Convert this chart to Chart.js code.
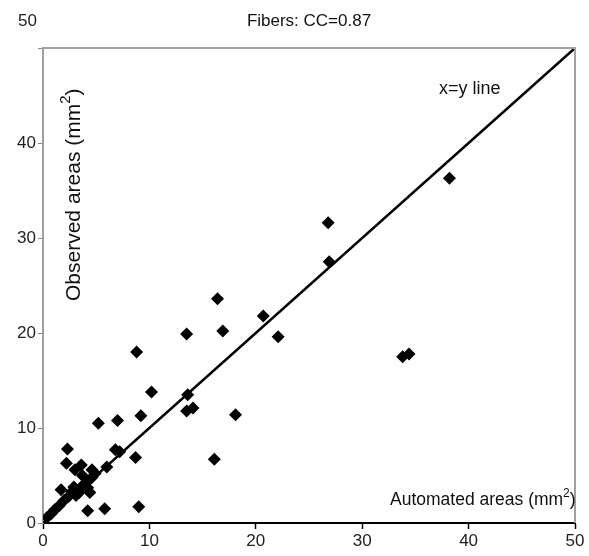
<!DOCTYPE html>
<html>
<head>
<meta charset="utf-8">
<script src="https://cdn.jsdelivr.net/npm/chart.js@4.4.0/dist/chart.umd.min.js"></script>
<style>
  body { margin: 0; background: #fff; }
</style>
</head>
<body>
<canvas id="chart" width="589" height="556"></canvas>
<script>
// automated (x) vs observed (y) areas, mm2
const automated = [38.2, 26.8, 26.9, 16.4, 20.7, 16.9, 13.5, 22.1, 8.8, 10.2,
  13.6, 13.5, 14.1, 18.1, 16.1, 33.8, 34.4, 5.2, 7.0, 9.2,
  2.3, 6.8, 7.2, 8.7, 2.2, 3.0, 3.6, 4.6, 6.0, 4.2,
  5.8, 9.0, 0.4, 0.8, 1.1, 1.5, 1.7, 2.0, 2.4, 2.7,
  2.9, 3.1, 3.4, 3.6, 3.9, 4.2, 4.4, 4.6, 4.9, 4.2, 3.7];
const observed = [36.3, 31.6, 27.5, 23.6, 21.8, 20.2, 19.9, 19.6, 18.0, 13.8,
  13.5, 11.8, 12.1, 11.4, 6.7, 17.5, 17.8, 10.5, 10.8, 11.3,
  7.8, 7.7, 7.5, 6.9, 6.3, 5.6, 6.1, 5.6, 5.9, 1.3,
  1.5, 1.7, 0.6, 1.0, 1.4, 1.8, 3.5, 2.4, 2.8, 3.3,
  3.8, 2.9, 3.2, 3.8, 4.1, 4.4, 3.2, 4.8, 5.2, 3.7, 5.0];
const identityLine = [0, 50];
const axisTicks = [0, 10, 20, 30, 40, 50];

const titleText = 'Fibers: CC=0.87';

const points = automated.map((x, i) => ({ x: x, y: observed[i] }));
const diag = identityLine.map(v => ({ x: v, y: v }));

// draws text with a raised "2"
function drawSup(ctx, before, sup, after, x, y, size) {
  const fam = '"Liberation Sans", Arial, sans-serif';
  ctx.font = size + 'px ' + fam;
  ctx.fillText(before, x, y);
  let w = ctx.measureText(before).width;
  ctx.font = Math.round(size * 0.7) + 'px ' + fam;
  ctx.fillText(sup, x + w, y - size * 0.48);
  w += ctx.measureText(sup).width;
  ctx.font = size + 'px ' + fam;
  ctx.fillText(after, x + w, y);
}

const extras = {
  id: 'extras',
  afterDraw(chart) {
    const ctx = chart.ctx;
    const a = chart.chartArea;
    ctx.save();
    // top & right frame
    ctx.strokeStyle = '#a0a0a0';
    ctx.lineWidth = 2;
    ctx.beginPath();
    ctx.moveTo(a.left, a.top);
    ctx.lineTo(a.right, a.top);
    ctx.lineTo(a.right, a.bottom);
    ctx.stroke();

    ctx.fillStyle = '#111';
    ctx.textBaseline = 'alphabetic';
    ctx.font = '17px "Liberation Sans", Arial, sans-serif';
    ctx.textAlign = 'center';
    ctx.fillText(titleText, (a.left + a.right) / 2, 26);

    // top y label sits up by the title
    ctx.textAlign = 'right';
    ctx.fillStyle = '#222';
    ctx.fillText('50', a.left - 6, 26);

    ctx.fillStyle = '#111';
    ctx.textAlign = 'left';
    ctx.font = '18px "Liberation Sans", Arial, sans-serif';
    ctx.fillText('x=y line', 439, 94);

    drawSup(ctx, 'Automated areas (mm', '2', ')', 390, 505, 17.5);

    ctx.translate(80, 301);
    ctx.rotate(-Math.PI / 2);
    drawSup(ctx, 'Observed areas (mm', '2', ')', 0, 0, 21);
    ctx.restore();
  }
};

new Chart(document.getElementById('chart').getContext('2d'), {
  type: 'scatter',
  data: {
    datasets: [{
      label: 'areas',
      data: points,
      pointStyle: 'rectRot',
      pointRadius: 6.5,
      backgroundColor: '#000',
      borderColor: '#000',
      borderWidth: 0,
      order: 1
    }, {
      type: 'line',
      label: 'x=y line',
      data: diag,
      borderColor: '#000',
      borderWidth: 2.5,
      pointRadius: 0,
      fill: false,
      order: 2
    }]
  },
  options: {
    responsive: false,
    animation: false,
    layout: { padding: { top: 48, right: 14, left: 0, bottom: 0 } },
    plugins: {
      legend: { display: false },
      tooltip: { enabled: false }
    },
    scales: {
      x: {
        type: 'linear',
        min: 0,
        max: 50,
        afterBuildTicks: s => { s.ticks = axisTicks.map(v => ({ value: v })); },
        afterFit: s => { s.height = 33; },
        grid: { drawOnChartArea: false, tickLength: 6, color: '#000', tickWidth: 1.5 },
        border: { color: '#000', width: 2 },
        ticks: {
          padding: 2,
          color: '#222',
          font: { family: '"Liberation Sans", Arial, sans-serif', size: 17 }
        }
      },
      y: {
        type: 'linear',
        min: 0,
        max: 50,
        afterBuildTicks: s => { s.ticks = axisTicks.map(v => ({ value: v })); },
        afterFit: s => { s.width = 43; },
        grid: { drawOnChartArea: false, tickLength: 5, color: '#888' },
        border: { color: '#a0a0a0', width: 2 },
        ticks: {
          padding: 2,
          color: '#222',
          font: { family: '"Liberation Sans", Arial, sans-serif', size: 17 },
          callback: v => (v === 50 ? '' : v)
        }
      }
    }
  },
  plugins: [extras]
});
</script>
</body>
</html>
